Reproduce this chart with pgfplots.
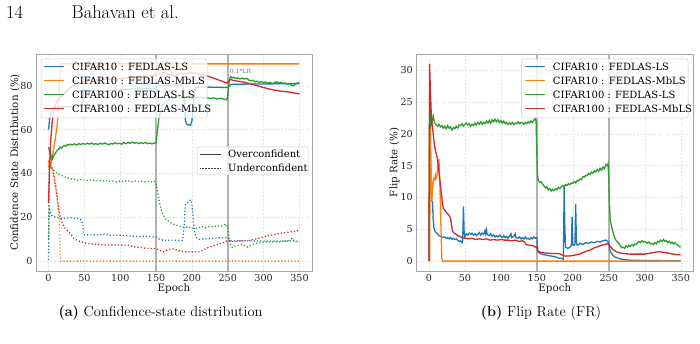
\documentclass[border=0pt]{standalone}
\usepackage{fontspec}
\usepackage{pgfplots}
\pgfplotsset{compat=1.18}
\newfontfamily\dvs{DejaVu Serif}
\definecolor{tblue}{HTML}{1F77B4}
\definecolor{torange}{HTML}{FF7F0E}
\definecolor{tgreen}{HTML}{2CA02C}
\definecolor{tred}{HTML}{D62728}
\tikzset{
  sline/.style={line width=1.3pt},
  dline/.style={line width=1.3pt, dash pattern=on 1.2pt off 2.1pt},
  lr/.style={anchor=west, inner sep=0pt, font=\dvs\fontsize{6}{7}\selectfont, color=black!55},
  lgbox/.style={draw=black!20, fill=white, fill opacity=0.8, rounded corners=2pt, line width=0.5pt},
  lgtxt/.style={anchor=base west, inner sep=0pt, font=\dvs\fontsize{10}{11}\selectfont},
}
\pgfplotsset{
  base/.style={
    scale only axis, height=217pt,
    xmin=-17.5, xmax=367.5,
    xtick={0,50,100,150,200,250,300,350},
    axis line style={black!35, line width=0.8pt},
    grid=major, grid style={black!10, dash pattern=on 2pt off 1.5pt, line width=0.4pt},
    major tick length=0pt,
    /pgf/number format/assume math mode=true,
    tick label style={font=\dvs\fontsize{9.6}{11}\selectfont, color=black!85},
    label style={font=\dvs\fontsize{10.3}{12}\selectfont, color=black!90},
    xlabel={Epoch},
    xlabel style={at={(axis description cs:0.5,0)}, anchor=base, yshift=-21pt},
    no markers,
  },
  vline/.style={black!30, line width=1.5pt, forget plot},
}
\begin{document}
\begin{tikzpicture}[x=1pt,y=1pt]
\path[use as bounding box] (0,0) rectangle (700,344);
\node[anchor=base west, inner sep=0pt, font=\fontsize{18.5}{20}\selectfont] at (6,325) {14};
\node[anchor=base west, inner sep=0pt, font=\fontsize{18.5}{20}\selectfont] at (71.5,325) {Bahavan et al.};

% ---------------- (a) ----------------
\begin{axis}[base, at={(36pt,73pt)}, anchor=south west, width=276pt,
  ymin=-4.5, ymax=94.5, ytick={0,20,40,60,80},
  ylabel={Confidence State Distribution (\%)},
  ylabel style={at={(axis description cs:-0.0652,0.5)}, anchor=base}]
\addplot[vline] coordinates {(150,-4.5) (150,94.5)};
\addplot[vline] coordinates {(250,-4.5) (250,94.5)};
% CIFAR10 LS
\addplot[sline, tblue] coordinates {(0,60) (1,63) (2,66) (4,69) (6,70) (10,70.3) (20,70.5) (30,70.3) (40,70.5) (45,71) (48,73) (49,78) (50,78) (80,77.5) (100,78.2) (120,78.7) (140,78.7) (150,79) (155,80) (187,80.5) (189,75) (191,64) (193,62.3) (198,62) (200,64) (203,75) (205,79) (210,79.5) (250,79.2) (255,80.7) (350,81)};
\addplot[dline, tblue] coordinates {(0,0.5) (1,25) (2,23) (4,21) (6,20.5) (10,20) (20,19.5) (30,19.8) (40,19.5) (45,19) (48,17) (49,12) (50,12) (70,12) (80,12.5) (85,11.8) (100,11.8) (120,11.3) (140,11.3) (150,11) (155,10) (160,9.5) (187,9.5) (189,15) (191,26) (195,27) (198,28) (200,26) (203,15) (205,11) (210,10) (230,10.5) (250,10.8) (255,9.3) (280,9.2) (350,9.2)};
% CIFAR10 MbLS
\addplot[sline, torange] coordinates {(0,46) (2,43) (4,45) (6,49) (8,53) (10,57) (12,62) (13,66) (14,72) (15,80) (16,87) (17,90) (350,90)};
\addplot[dline, torange] coordinates {(0,44) (2,46) (4,44) (6,41) (8,37) (10,33) (12,28) (13,25) (14,22) (15,18) (16,6) (17,0) (350,0)};
% CIFAR100 LS
\addplot[sline, tgreen] coordinates {(0,52) (2,49.5) (4,46.5) (5,48) (6,47) (8,48.5) (10,49.5) (12,50.5) (14,51) (16,52) (18,51.5) (20,52.3) (22,52.8) (24,52.4) (26,53.2) (28,52.9) (30,53.4) (33,53) (36,53.5) (39,52.9) (42,53.6) (45,53.2) (48,53.7) (51,53.3) (54,53.8) (57,53.4) (60,53.9) (63,53.3) (66,53.6) (69,53.2) (72,53.8) (75,53.4) (78,53.9) (81,53.5) (84,53.1) (87,53.7) (90,53.4) (93,54) (96,53.5) (99,53.8) (102,53.3) (105,54.1) (108,53.6) (111,54.2) (114,53.7) (117,54.3) (120,53.8) (123,54.1) (126,53.6) (129,54) (132,53.7) (135,54.2) (138,53.6) (141,53.9) (144,53.5) (147,53.8) (150,54) (152,60) (154,65) (156,68.5) (158,70.5) (161,72) (164,73) (167,73.5) (170,74.2) (175,74.6) (180,74.9) (185,75.2) (190,75) (195,75.3) (200,75.1) (205,74.6) (210,74.9) (215,74.4) (220,74.7) (225,74.2) (230,74.5) (235,74) (240,74.3) (245,73.8) (248,73.6) (250,75) (252,82.5) (254,84.2) (256,83.6) (258,83.9) (261,83.3) (264,83.6) (267,83.2) (270,83.5) (273,83.1) (276,83.4) (279,82.7) (282,82.2) (285,82.5) (288,81.8) (291,82.1) (294,81.6) (297,81.9) (300,81.4) (303,81.7) (306,81.2) (309,81.5) (312,81) (315,81.4) (318,81.8) (321,81.3) (324,81.6) (327,81.1) (330,81.3) (333,80.7) (336,81) (339,80.2) (342,80) (345,81) (348,81.4) (350,81.2)};
\addplot[dline, tgreen] coordinates {(0,10) (1,42) (2,43.5) (4,42.8) (6,42) (8,41) (10,40.5) (13,40) (16,39.2) (19,39) (22,38.5) (25,38.2) (28,37.8) (31,37.6) (34,37.2) (37,37.4) (40,36.9) (45,37.3) (50,37) (55,36.8) (60,37.1) (65,36.6) (70,36.9) (75,36.4) (80,36.8) (85,36.3) (90,36.5) (95,36.1) (100,36.6) (105,36.3) (110,36.8) (115,36.2) (120,36.6) (125,36.3) (130,36.5) (135,36.2) (140,36.4) (145,36.1) (148,36.4) (150,35.5) (152,32) (154,28) (156,25) (158,22.5) (161,20.5) (164,19) (168,18) (172,17.2) (176,16.6) (180,16.3) (185,15.8) (190,15.4) (195,15.6) (200,15.1) (205,14.8) (210,15.3) (215,15.7) (220,15.2) (225,15.8) (230,15.6) (235,16.1) (240,15.9) (245,16.4) (248,17) (250,15.5) (252,10) (254,7.5) (256,6.2) (258,6.8) (262,7) (266,7.3) (270,7.6) (274,7) (278,6.4) (282,7.2) (286,7.8) (290,8.2) (295,8.5) (300,8.6) (305,8.9) (310,8.7) (315,8.9) (320,8.6) (325,9) (330,9.1) (335,9.3) (338,10) (340,10.5) (342,9.2) (345,8.8) (350,8.8)};
% CIFAR100 MbLS
\addplot[sline, tred] coordinates {(0,26.5) (1,38) (2,48) (3,55) (5,63) (7,68) (9,71) (12,73) (15,74.5) (20,76) (25,77.5) (30,79) (35,80) (40,80.8) (50,82) (60,82.5) (80,83) (100,83.2) (120,84) (140,84.5) (150,85) (160,86) (170,85) (175,84.5) (185,85.7) (200,85.8) (210,85.5) (215,85) (222,84.4) (230,83.5) (242,82.1) (249,81.2) (253,82.9) (260,82.3) (275,81.5) (289,80.2) (300,79.2) (307,78.6) (315,78) (326,77.5) (338,77) (350,76.3)};
\addplot[dline, tred] coordinates {(0,43) (1,43.4) (6,42) (11,32.6) (13.5,25) (16,20.4) (21,15.8) (30,12.7) (35,10.4) (44,8.9) (53,8.1) (77,7.4) (109,7.4) (118,6.6) (137,5.8) (149,5.8) (155,5) (160,4.2) (165,5) (170,5.5) (175,5.6) (180,4.8) (190,4.3) (210,4.3) (215,5) (225,6.5) (235,7.5) (245,8.5) (250,9.5) (255,9) (260,9) (270,9.3) (280,9.5) (290,10.2) (300,11) (310,11.8) (320,12.5) (330,13) (340,13.5) (350,14)};
\node[lr] at (axis cs:152.5,86.5) {0.1*LR};
\node[lr] at (axis cs:252.8,86.4) {0.1*LR};
\end{axis}

% ---------------- (b) ----------------
\begin{axis}[base, at={(416.3pt,73pt)}, anchor=south west, width=277pt,
  ymin=-1.55, ymax=32.55, ytick={0,5,10,15,20,25,30},
  ylabel={Flip Rate (\%)},
  ylabel style={at={(axis description cs:-0.068,0.5)}, anchor=base}]
\addplot[vline] coordinates {(150,-1.55) (150,32.55)};
\addplot[vline] coordinates {(250,-1.55) (250,32.55)};
\addplot[sline, tblue] coordinates {(2,14) (3,11) (4,9.5) (5,9.2) (6,6.5) (7,5.2) (8,4.8) (10,4.5) (12,4.3) (14,4.0) (16,3.9) (18,3.8) (20,3.7) (22,3.8) (24,3.6) (26,3.7) (28,3.5) (30,3.7) (32,3.4) (34,3.6) (36,3.4) (38,3.5) (40,3.3) (42,3.1) (44,3.2) (46,2.9) (47,3.3) (48,8.6) (49,4.5) (50,3.8) (52,4.3) (54,4.1) (56,4.4) (58,4.2) (60,4.4) (62,4.1) (64,4.3) (66,4.0) (68,4.2) (70,4.5) (72,4.1) (74,4.4) (76,4.2) (78,4.8) (79,4.3) (80,4.9) (81,4.2) (84,4.0) (86,4.3) (88,3.9) (90,4.1) (92,3.8) (94,4.0) (96,3.8) (98,4.1) (100,3.9) (102,3.7) (104,4.0) (106,3.7) (108,3.9) (110,3.6) (112,3.9) (114,4.3) (115,3.7) (118,3.9) (120,4.3) (121,3.7) (124,3.6) (126,3.8) (128,3.5) (130,3.7) (132,3.5) (134,3.8) (136,3.5) (138,3.6) (140,3.4) (142,3.7) (144,3.5) (146,3.8) (148,3.6) (150,3.7) (151,2) (152,1.4) (155,1.2) (160,1.0) (165,0.9) (170,0.8) (175,0.7) (180,0.5) (185,0.4) (187,0.3) (188,12) (189,5) (190,2.2) (193,2.0) (196,2.2) (198,2.4) (199,7.0) (200,2.6) (202,2.5) (203,2.7) (204,9.0) (205,3.0) (206,2.5) (208,2.6) (210,2.8) (214,2.6) (218,2.9) (222,2.8) (226,3.0) (230,2.9) (234,3.1) (238,3.0) (242,3.2) (246,3.3) (249,3.1) (250,2.7) (252,1.6) (255,1.0) (258,0.7) (262,0.5) (266,0.35) (270,0.25) (280,0.15) (300,0.1) (350,0.05)};
\addplot[sline, torange] coordinates {(1,0) (2,23) (3,15) (4,9.5) (5,11) (6,12.5) (7,13) (8,12.8) (9,13.5) (10,13) (11,13.3) (12,14.5) (13,15.8) (14,15.9) (15,13) (16,9) (17,4) (18,0.5) (19,0) (350,0)};
\addplot[sline, tgreen] coordinates {(0,0) (1,26) (2,24) (3,21.3) (4,21.6) (5,22.2) (6,22.8) (7,22.3) (8,21.7) (10,21.4) (12,21.2) (14,21.5) (16,21.1) (18,21.3) (20,20.9) (22,21.2) (24,20.8) (26,21.3) (28,20.9) (30,21.1) (32,20.6) (34,21) (36,20.8) (38,21.2) (40,20.9) (42,21.4) (44,21.3) (46,21.6) (48,21.2) (50,21.5) (52,21.7) (54,21.4) (56,21.6) (58,21.2) (60,21.5) (62,21.3) (64,21.7) (66,21.4) (68,21.8) (70,21.5) (72,21.9) (74,21.5) (76,21.8) (78,21.6) (80,22) (82,21.7) (84,22.1) (86,21.7) (88,22.2) (90,21.9) (92,22.3) (94,21.9) (96,22.2) (98,21.8) (100,22.1) (102,21.7) (104,22) (106,21.6) (108,21.8) (110,21.5) (112,21.7) (114,21.5) (116,21.8) (118,21.5) (120,21.7) (122,21.6) (124,21.9) (126,21.6) (128,21.8) (130,21.7) (132,21.5) (134,21.8) (136,21.6) (138,21.9) (140,21.7) (142,22) (144,21.8) (146,22.2) (148,22.4) (149,21.9) (150,17) (151,13.5) (152,12.7) (154,12.4) (156,12.5) (158,12.1) (160,11.8) (162,11.5) (164,11.7) (166,11.2) (168,11.4) (170,11) (172,11.3) (174,11.1) (176,11.4) (178,11.2) (180,11.6) (182,11.4) (184,11.7) (186,11.9) (188,11.7) (190,12) (192,11.9) (194,12.2) (196,12) (198,12.3) (200,12.2) (202,12.5) (204,12.3) (206,12.7) (208,12.6) (210,12.9) (212,12.8) (214,13.3) (216,13.2) (218,13.5) (220,13.4) (222,13.8) (224,13.6) (226,14) (228,13.8) (230,14.2) (232,14) (234,14.4) (236,14.1) (238,14.6) (240,14.3) (242,14.8) (244,14.5) (246,15.2) (248,15) (249,15.3) (250,13) (251,9) (252,6.5) (254,5.4) (256,4.5) (258,3.7) (260,3.3) (262,3) (264,2.8) (266,2.4) (268,2.1) (270,2.2) (272,2) (274,2.4) (276,2.2) (278,2.5) (280,2.3) (282,2.6) (284,2.4) (286,2.7) (288,2.6) (290,2.9) (292,3.1) (294,2.9) (296,3.2) (298,3) (300,3.1) (302,2.9) (304,2.8) (306,3) (308,2.7) (310,2.8) (312,2.6) (314,2.9) (316,2.7) (318,3.1) (320,3) (322,3.3) (324,3.1) (326,3.4) (328,3.1) (330,3.2) (332,2.9) (334,3.1) (336,2.8) (338,3) (340,2.7) (342,2.9) (344,2.6) (346,2.5) (348,2.3) (350,2.2)};
\addplot[sline, tred] coordinates {(0,0) (1,31) (2,27) (3,24) (4,22) (5,21) (6,20) (7,19) (8,18) (9,17.5) (10,17) (11,16.5) (12,16) (13,15) (14,14) (15,13) (16,12) (17,11) (18,10) (19,9) (20,8.3) (22,8) (24,7.7) (26,7.4) (28,7.2) (30,6.8) (31,6) (32,5.2) (33,4.7) (35,4.4) (38,4.2) (40,4.0) (43,3.9) (46,3.7) (50,3.6) (55,3.5) (60,3.6) (65,3.4) (70,3.5) (75,3.4) (80,3.5) (85,3.3) (90,3.4) (95,3.3) (100,3.4) (105,3.3) (110,3.3) (115,3.2) (120,3.3) (125,3.1) (130,3.2) (133,3.0) (135,2.6) (140,2.5) (145,2.4) (148,2.2) (150,2.2) (151,1.6) (155,1.4) (160,1.3) (170,1.2) (180,1.2) (185,1.0) (188,0.8) (195,0.8) (200,0.9) (205,1.0) (210,1.1) (215,1.4) (220,1.6) (225,1.8) (230,2.1) (235,2.3) (240,2.5) (245,2.6) (248,2.8) (250,2.6) (253,2.2) (256,1.8) (260,1.5) (265,1.3) (270,1.2) (280,1.1) (290,1.1) (300,1.1) (305,1.2) (310,1.3) (315,1.4) (320,1.5) (325,1.4) (330,1.3) (335,1.2) (340,1.1) (345,1.0) (350,1.0)};
\node[lr] at (axis cs:152.2,29.65) {0.1*LR};
\node[lr] at (axis cs:251.7,29.65) {0.1*LR};
\end{axis}

% ---------------- legends ----------------
\path[lgbox] (41,285) rectangle (207,226);
\draw[tblue, line width=1.3pt] (44,277.3) -- (64,277.3);
\draw[torange, line width=1.3pt] (44,263.3) -- (64,263.3);
\draw[tgreen, line width=1.3pt] (44,249.3) -- (64,249.3);
\draw[tred, line width=1.3pt] (44,235.3) -- (64,235.3);
\node[lgtxt] at (72,273.7) {CIFAR10 : FEDLAS-LS};
\node[lgtxt] at (72,259.7) {CIFAR10 : FEDLAS-MbLS};
\node[lgtxt] at (72,245.7) {CIFAR100 : FEDLAS-LS};
\node[lgtxt] at (72,231.7) {CIFAR100 : FEDLAS-MbLS};
\path[lgbox] (197,197) rectangle (308,169);
\draw[black!75, line width=0.8pt] (200,190) -- (221,190);
\draw[black!75, line width=0.6pt, dash pattern=on 0.6pt off 0.9pt] (200,176) -- (221,176);
\node[lgtxt] at (228,186.4) {Overconfident};
\node[lgtxt] at (228,172.4) {Underconfident};
\path[lgbox] (521.7,285) rectangle (688,226);
\draw[tblue, line width=1.3pt] (525,277.3) -- (545,277.3);
\draw[torange, line width=1.3pt] (525,263.3) -- (545,263.3);
\draw[tgreen, line width=1.3pt] (525,249.3) -- (545,249.3);
\draw[tred, line width=1.3pt] (525,235.3) -- (545,235.3);
\node[lgtxt] at (552.7,273.7) {CIFAR10 : FEDLAS-LS};
\node[lgtxt] at (552.7,259.7) {CIFAR10 : FEDLAS-MbLS};
\node[lgtxt] at (552.7,245.7) {CIFAR100 : FEDLAS-LS};
\node[lgtxt] at (552.7,231.7) {CIFAR100 : FEDLAS-MbLS};

\node[anchor=base, inner sep=0pt, font=\fontsize{14.4}{16}\selectfont] at (160.5,27.3) {\textbf{(a)} Confidence-state distribution};
\node[anchor=base, inner sep=0pt, font=\fontsize{14.4}{16}\selectfont] at (541,27.3) {\textbf{(b)} Flip Rate (FR)};
\end{tikzpicture}
\end{document}
